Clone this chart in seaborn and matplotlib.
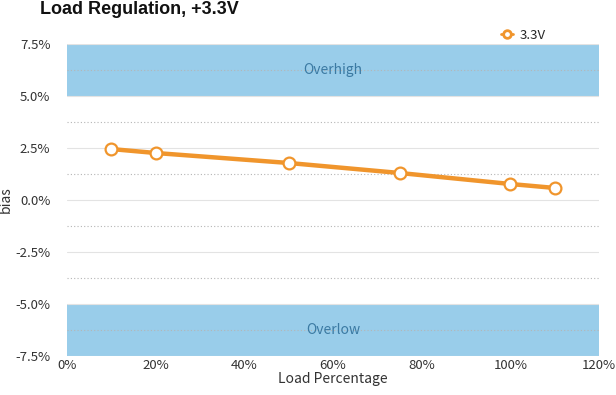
import pandas as pd
import numpy as np
import matplotlib
matplotlib.use("Agg")
import matplotlib.pyplot as plt
import seaborn as sns
from matplotlib.ticker import FuncFormatter

# data
load_pct = [10, 20, 50, 75, 100, 110]
bias_pct = [2.45, 2.26, 1.78, 1.30, 0.77, 0.58]
series_name = "3.3V"
x_ticks = [0, 20, 40, 60, 80, 100, 120]
y_ticks = [-7.5, -5.0, -2.5, 0.0, 2.5, 5.0, 7.5]

df = pd.DataFrame({"load": load_pct, "bias": bias_pct, "series": series_name})

sns.set_theme(style="white")
plt.rcParams["font.family"] = ["Noto Sans CJK JP", "DejaVu Sans"]

fig = plt.figure(figsize=(6.16, 3.95), dpi=100)
ax = fig.add_axes([0.1088, 0.0987, 0.8636, 0.7899])

band = "#99cdea"
ax.axhspan(5.0, 7.5, color=band, lw=0, zorder=0)
ax.axhspan(-7.5, -5.0, color=band, lw=0, zorder=0)
ax.text(60, 6.25, "Overhigh", ha="center", va="center", color="#3b7aa3", fontsize=10)
ax.text(60, -6.25, "Overlow", ha="center", va="center", color="#3b7aa3", fontsize=10)

sns.lineplot(data=df, x="load", y="bias", hue="series", palette=["#f0952c"],
             marker="o", markersize=8.5, markerfacecolor="white", markeredgecolor="#f0952c",
             markeredgewidth=1.6, linewidth=3.2, ax=ax, zorder=3)

ax.set_xlim(0, 120)
ax.set_ylim(-7.5, 7.5)
ax.set_xticks(x_ticks)
ax.set_yticks(y_ticks)
ax.set_yticks([-6.25, -3.75, -1.25, 1.25, 3.75, 6.25], minor=True)
ax.xaxis.set_major_formatter(FuncFormatter(lambda v, p: f"{v:.0f}%"))
ax.yaxis.set_major_formatter(FuncFormatter(lambda v, p: f"{v:.1f}%"))
ax.grid(axis="y", which="major", color="#e3e3e3", lw=0.8)
ax.grid(axis="y", which="minor", color="#b5b5b5", lw=0.8, ls=(0, (1, 2)))
ax.set_axisbelow(True)
for s in ax.spines.values():
    s.set_visible(False)
ax.tick_params(axis="both", which="both", length=0, labelsize=9.5, colors="#333333")
ax.tick_params(axis="y", pad=12)
ax.tick_params(axis="x", pad=2)
ax.set_xlabel("Load Percentage", fontsize=10, color="#333333", labelpad=0)
ax.set_ylabel("bias", fontsize=10, color="#333333", labelpad=2)

leg = ax.legend(loc="lower right", bbox_to_anchor=(0.91, 0.99), frameon=False,
                handlelength=0.9, handletextpad=0.5, fontsize=9.5, borderaxespad=0)
for h in leg.get_lines():
    h.set_markersize(5.5)
    h.set_markeredgewidth(2.0)
    h.set_linewidth(2.0)

fig.text(0.065, 0.975, "Load Regulation, +3.3V", fontsize=13, fontweight="bold",
         color="#111111", va="center", family=["Liberation Sans", "DejaVu Sans"])

fig.savefig("out.png", dpi=100)
